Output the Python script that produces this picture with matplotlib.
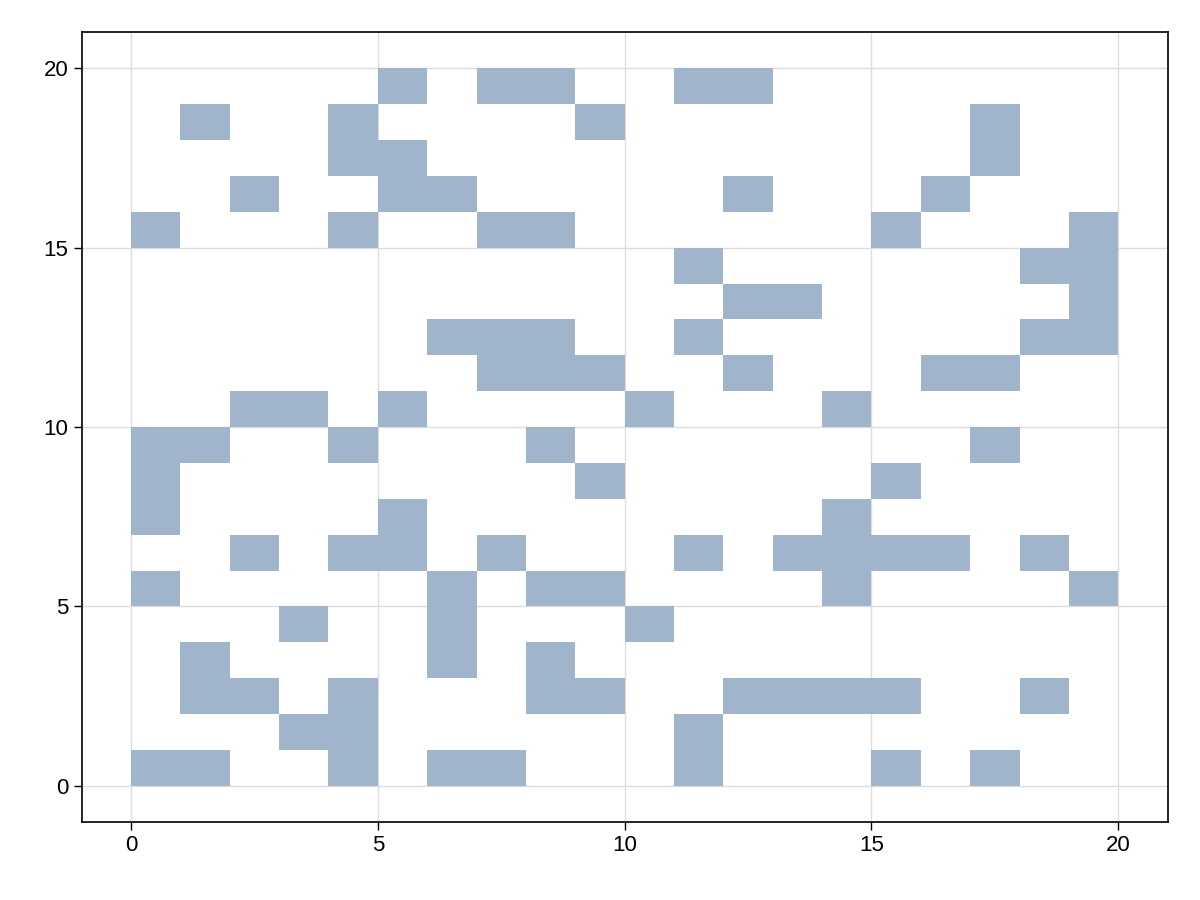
import numpy as np
import matplotlib
matplotlib.use("Agg")
import matplotlib.pyplot as plt

plt.rcParams['font.family'] = ['Liberation Sans', 'DejaVu Sans']

# filled cells per row (row index = y lower edge), listing x lower edges
rows = {
    19: [5, 7, 8, 11, 12],
    18: [1, 4, 9, 17],
    17: [4, 5, 17],
    16: [2, 5, 6, 12, 16],
    15: [0, 4, 7, 8, 15, 19],
    14: [11, 18, 19],
    13: [12, 13, 19],
    12: [6, 7, 8, 11, 18, 19],
    11: [7, 8, 9, 12, 16, 17],
    10: [2, 3, 5, 10, 14],
    9: [0, 1, 4, 8, 17],
    8: [0, 9, 15],
    7: [0, 5, 14],
    6: [2, 4, 5, 7, 11, 13, 14, 15, 16, 18],
    5: [0, 6, 8, 9, 14, 19],
    4: [3, 6, 10],
    3: [1, 6, 8],
    2: [1, 2, 4, 8, 9, 12, 13, 14, 15, 18],
    1: [3, 4, 11],
    0: [0, 1, 4, 6, 7, 11, 15, 17],
}

grid = np.zeros((20, 20))
for r, xs in rows.items():
    for x in xs:
        grid[r, x] = 1
masked = np.ma.masked_where(grid == 0, grid)

fig = plt.figure(figsize=(12, 9), dpi=100)
ax = fig.add_axes([0.068, 0.087, 0.905, 0.877])
from matplotlib.colors import ListedColormap
ax.pcolormesh(np.arange(21), np.arange(21), masked, cmap=ListedColormap(['#a0b5cc']), vmin=0, vmax=1, zorder=2)
ax.set_xlim(-1, 21)
ax.set_ylim(-1, 21)
ticks = [0, 5, 10, 15, 20]
ax.set_xticks(ticks)
ax.set_yticks(ticks)
ax.grid(True, color='#dddddd', linewidth=1, zorder=1)
ax.set_axisbelow(True)
ax.tick_params(labelsize=16, length=6, width=1)
for s in ax.spines.values():
    s.set_linewidth(1.2)
fig.savefig('out.png', dpi=100)
